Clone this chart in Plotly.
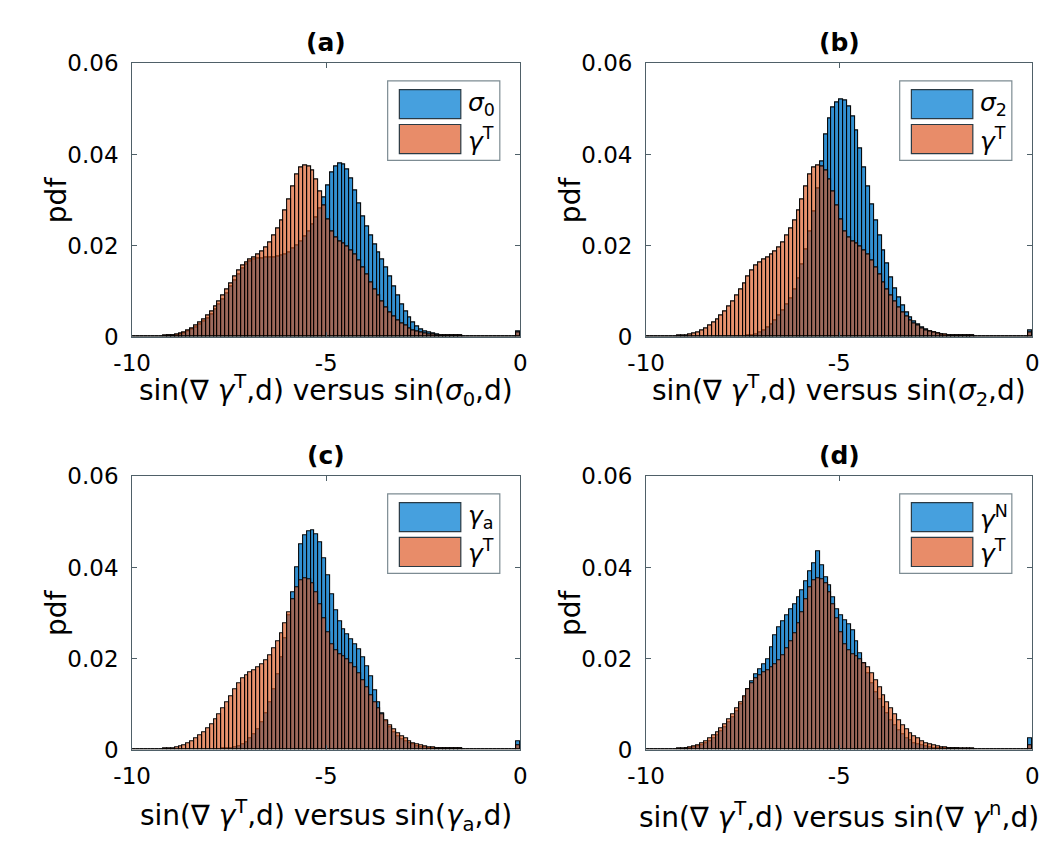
import numpy as np
import plotly.graph_objects as go

# ---------------- data (pdf values per bin, bins of width 0.1 from -10 to 0) ----------------
bin_start = -10.0
bin_width = 0.1

gamma_T = [0, 0, 0, 0, 0, 0.0001, 0.0001, 0.0001, 0.0002, 0.0002,
           0.0003, 0.0005, 0.0007, 0.0010, 0.0014, 0.0019, 0.0025, 0.0032, 0.0039, 0.0047,
           0.0056, 0.0066, 0.0077, 0.0090, 0.0103, 0.0118, 0.0132, 0.0145, 0.0156, 0.0164,
           0.0170, 0.0175, 0.0180, 0.0188, 0.0197, 0.0208, 0.0222, 0.0238, 0.0256, 0.0278,
           0.0302, 0.0330, 0.0356, 0.0372, 0.0377, 0.0375, 0.0365, 0.0345, 0.0318, 0.0288,
           0.0258, 0.0232, 0.0218, 0.0210, 0.0204, 0.0198, 0.0190, 0.0180, 0.0168, 0.0153,
           0.0137, 0.0120, 0.0104, 0.0090, 0.0077, 0.0065, 0.0054, 0.0045, 0.0037, 0.0030,
           0.0024, 0.0019, 0.0015, 0.0012, 0.0009, 0.0007, 0.0006, 0.0005, 0.0004, 0.0003,
           0.0003, 0.0002, 0.0002, 0.0002, 0.0002, 0.0001, 0.0001, 0.0001, 0.0001, 0.0001,
           0.0001, 0.0001, 0.0001, 0.0001, 0.0001, 0.0001, 0.0001, 0.0001, 0.0001, 0.0010]

sigma_0 = [0, 0, 0, 0, 0, 0, 0.0001, 0.0001, 0.0001, 0.0002,
           0.0002, 0.0004, 0.0006, 0.0008, 0.0012, 0.0016, 0.0021, 0.0027, 0.0034, 0.0041,
           0.0050, 0.0060, 0.0071, 0.0083, 0.0096, 0.0110, 0.0124, 0.0137, 0.0149, 0.0158,
           0.0165, 0.0169, 0.0172, 0.0173, 0.0174, 0.0175, 0.0175, 0.0176, 0.0178, 0.0181,
           0.0186, 0.0193, 0.0201, 0.0210, 0.0220, 0.0232, 0.0246, 0.0262, 0.0281, 0.0305,
           0.0333, 0.0360, 0.0374, 0.0380, 0.0378, 0.0368, 0.0348, 0.0322, 0.0292, 0.0264,
           0.0242, 0.0222, 0.0202, 0.0186, 0.0170, 0.0152, 0.0132, 0.0110, 0.0090, 0.0071,
           0.0055, 0.0042, 0.0031, 0.0023, 0.0017, 0.0012, 0.0009, 0.0007, 0.0005, 0.0004,
           0.0003, 0.0003, 0.0002, 0.0002, 0.0002, 0.0001, 0.0001, 0.0001, 0.0001, 0.0001,
           0.0001, 0.0001, 0.0001, 0.0001, 0.0001, 0.0001, 0.0001, 0.0001, 0.0001, 0.0012]

sigma_2 = [0, 0, 0, 0, 0, 0, 0, 0, 0, 0,
           0, 0, 0, 0, 0, 0, 0, 0, 0, 0,
           0, 0, 0, 0, 0, 0.0001, 0.0002, 0.0004, 0.0006, 0.0009,
           0.0014, 0.0020, 0.0028, 0.0037, 0.0047, 0.0058, 0.0070, 0.0085, 0.0104, 0.0128,
           0.0158, 0.0192, 0.0232, 0.0275, 0.0325, 0.0385, 0.0445, 0.0480, 0.0503, 0.0515,
           0.0522, 0.0519, 0.0505, 0.0483, 0.0452, 0.0414, 0.0372, 0.0330, 0.0290, 0.0255,
           0.0222, 0.0190, 0.0160, 0.0131, 0.0107, 0.0086, 0.0068, 0.0054, 0.0043, 0.0034,
           0.0027, 0.0021, 0.0016, 0.0012, 0.0009, 0.0007, 0.0005, 0.0004, 0.0003, 0.0003,
           0.0002, 0.0002, 0.0002, 0.0002, 0.0002, 0.0001, 0.0001, 0.0001, 0.0001, 0.0001,
           0.0001, 0.0001, 0.0001, 0.0001, 0.0001, 0.0001, 0.0001, 0.0001, 0.0001, 0.0015]

gamma_a = [0, 0, 0, 0, 0, 0, 0, 0, 0, 0,
           0, 0, 0, 0, 0, 0, 0, 0, 0, 0,
           0, 0, 0.0001, 0.0002, 0.0003, 0.0004, 0.0006, 0.0008, 0.0012, 0.0017,
           0.0024, 0.0033, 0.0045, 0.0060, 0.0080, 0.0104, 0.0133, 0.0166, 0.0203, 0.0245,
           0.0295, 0.0345, 0.0400, 0.0450, 0.0470, 0.0479, 0.0481, 0.0472, 0.0455, 0.0420,
           0.0382, 0.0342, 0.0305, 0.0282, 0.0265, 0.0254, 0.0243, 0.0232, 0.0220, 0.0203,
           0.0184, 0.0160, 0.0130, 0.0103, 0.0080, 0.0062, 0.0049, 0.0039, 0.0030, 0.0023,
           0.0018, 0.0014, 0.0011, 0.0008, 0.0006, 0.0005, 0.0004, 0.0003, 0.0002, 0.0002,
           0.0002, 0.0002, 0.0002, 0.0002, 0.0002, 0.0001, 0.0001, 0.0001, 0.0001, 0.0001,
           0.0001, 0.0001, 0.0001, 0.0001, 0.0001, 0.0001, 0.0001, 0.0001, 0.0001, 0.0018]

gamma_N = [0, 0, 0, 0, 0, 0, 0, 0, 0.0001, 0.0001,
           0.0002, 0.0003, 0.0005, 0.0007, 0.0010, 0.0014, 0.0019, 0.0025, 0.0032, 0.0040,
           0.0049, 0.0059, 0.0071, 0.0085, 0.0100, 0.0116, 0.0133, 0.0150, 0.0165, 0.0177,
           0.0187, 0.0198, 0.0225, 0.0250, 0.0268, 0.0282, 0.0295, 0.0307, 0.0320, 0.0335,
           0.0350, 0.0370, 0.0392, 0.0410, 0.0435, 0.0405, 0.0378, 0.0360, 0.0335, 0.0308,
           0.0294, 0.0285, 0.0276, 0.0262, 0.0238, 0.0212, 0.0190, 0.0168, 0.0146, 0.0127,
           0.0110, 0.0094, 0.0079, 0.0065, 0.0053, 0.0042, 0.0033, 0.0026, 0.0020, 0.0015,
           0.0011, 0.0009, 0.0007, 0.0005, 0.0004, 0.0003, 0.0002, 0.0002, 0.0002, 0.0002,
           0.0002, 0.0001, 0.0001, 0.0001, 0.0001, 0.0001, 0.0001, 0.0001, 0.0001, 0.0001,
           0.0001, 0.0001, 0.0001, 0.0001, 0.0001, 0.0001, 0.0001, 0.0001, 0.0001, 0.0026]

panel_titles = ["(a)", "(b)", "(c)", "(d)"]
blue_series = [sigma_0, sigma_2, gamma_a, gamma_N]
blue_names = ["<i>σ</i><sub>0</sub>", "<i>σ</i><sub>2</sub>", "<i>γ</i><sub>a</sub>", "<i>γ</i><sup>N</sup>"]
orange_name = "<i>γ</i><sup>T</sup>"
x_labels = ["sin(∇ <i>γ</i><sup>T</sup>,d) versus sin(<i>σ</i><sub>0</sub>,d)",
            "sin(∇ <i>γ</i><sup>T</sup>,d) versus sin(<i>σ</i><sub>2</sub>,d)",
            "sin(∇ <i>γ</i><sup>T</sup>,d) versus sin(<i>γ</i><sub>a</sub>,d)",
            "sin(∇ <i>γ</i><sup>T</sup>,d) versus sin(∇ <i>γ</i><sup>n</sup>,d)"]
x_ticks = [-10, -5, 0]
y_ticks = [0, 0.02, 0.04, 0.06]
y_ticktext = ["0", "0.02", "0.04", "0.06"]

# ---------------- layout geometry (pixels) ----------------
W, H = 1052, 849
panels_px = [  # left, right, top, bottom
    (116, 514, 52, 334),
    (643, 1039, 52, 334),
    (116, 514, 478, 760),
    (643, 1039, 478, 760),
]
xlabel_offset = [55, 55, 68, 68]

def px(x):
    return x / W

def py(y):
    return 1 - y / H

FONT = "DejaVu Sans"
BLUE = "rgb(50,144,210)"
ORANGE = "rgba(217,83,25,0.63)"
EDGE = "rgba(0,0,0,0.95)"
AXCOL = "#4f6068"

centers = [bin_start + bin_width * (i + 0.5) for i in range(len(gamma_T))]

fig = go.Figure()
annotations = []
shapes = []

for k in range(4):
    ax = "" if k == 0 else str(k + 1)
    l, r, t, b = panels_px[k]
    fig.add_trace(go.Bar(x=centers, y=blue_series[k], width=bin_width,
                         marker=dict(color=BLUE, line=dict(color=EDGE, width=1.1)),
                         xaxis="x" + ax, yaxis="y" + ax, showlegend=False, name="blue"))
    fig.add_trace(go.Bar(x=centers, y=gamma_T, width=bin_width,
                         marker=dict(color=ORANGE, line=dict(color=EDGE, width=1.1)),
                         xaxis="x" + ax, yaxis="y" + ax, showlegend=False, name="gammaT"))
    fig.layout["xaxis" + ax] = dict(
        domain=[px(l), px(r)], anchor="y" + ax, range=[-10, 0],
        tickvals=x_ticks, ticktext=[str(v) for v in x_ticks],
        ticks="inside", ticklen=5, tickcolor=AXCOL, showline=True, linecolor=AXCOL,
        linewidth=1, mirror="ticks", showgrid=False, zeroline=False,
        tickfont=dict(family=FONT, size=23, color="black"), ticklabelstandoff=6,
    )
    fig.layout["yaxis" + ax] = dict(
        domain=[py(b), py(t)], anchor="x" + ax, range=[0, 0.06],
        tickvals=y_ticks, ticktext=y_ticktext,
        ticks="inside", ticklen=5, tickcolor=AXCOL, showline=True, linecolor=AXCOL,
        linewidth=1, mirror="ticks", showgrid=False, zeroline=False,
        tickfont=dict(family=FONT, size=23, color="black"), ticklabelstandoff=8,
    )
    cx = (l + r) / 2
    # title
    annotations.append(dict(text="<b>" + panel_titles[k] + "</b>", x=px(cx), y=py(t - 22),
                            xref="paper", yref="paper", showarrow=False, xanchor="center",
                            yanchor="middle", font=dict(family=FONT, size=25, color="black")))
    # x label
    annotations.append(dict(text=x_labels[k], x=px(cx), y=py(b + xlabel_offset[k]),
                            xref="paper", yref="paper", showarrow=False, xanchor="center",
                            yanchor="middle", font=dict(family=FONT, size=28, color="black")))
    # y label
    annotations.append(dict(text="pdf", x=px(l - 78), y=py((t + b) / 2),
                            xref="paper", yref="paper", showarrow=False, xanchor="center",
                            yanchor="middle", textangle=-90,
                            font=dict(family=FONT, size=28, color="black")))
    # legend box
    bl, br = r - 136, r - 21
    bt, bb = t + 18, t + 100
    shapes.append(dict(type="rect", xref="paper", yref="paper", x0=px(bl), x1=px(br),
                       y0=py(bb), y1=py(bt), fillcolor="white", line=dict(color="#7d8c93", width=1.2)))
    entries = [(blue_names[k], "rgb(70,160,222)"), (orange_name, "rgb(232,140,105)")]
    for j, (nm, col) in enumerate(entries):
        pt = bt + 9 + j * 36
        shapes.append(dict(type="rect", xref="paper", yref="paper", x0=px(bl + 12), x1=px(bl + 75),
                           y0=py(pt + 30), y1=py(pt), fillcolor=col,
                           line=dict(color="#2a3a44", width=1.2)))
        annotations.append(dict(text=nm, x=px(bl + 80), y=py(pt + 15), xref="paper", yref="paper",
                                showarrow=False, xanchor="left", yanchor="middle",
                                font=dict(family=FONT, size=25, color="black")))

fig.update_layout(
    width=W, height=H, margin=dict(l=0, r=0, t=0, b=0),
    paper_bgcolor="white", plot_bgcolor="white",
    barmode="overlay", bargap=0, showlegend=False,
    annotations=annotations, shapes=shapes,
)

fig.write_html("out.html", config={"displayModeBar": False},
               post_script="document.body.style.margin='0px';document.body.style.overflow='hidden';")
